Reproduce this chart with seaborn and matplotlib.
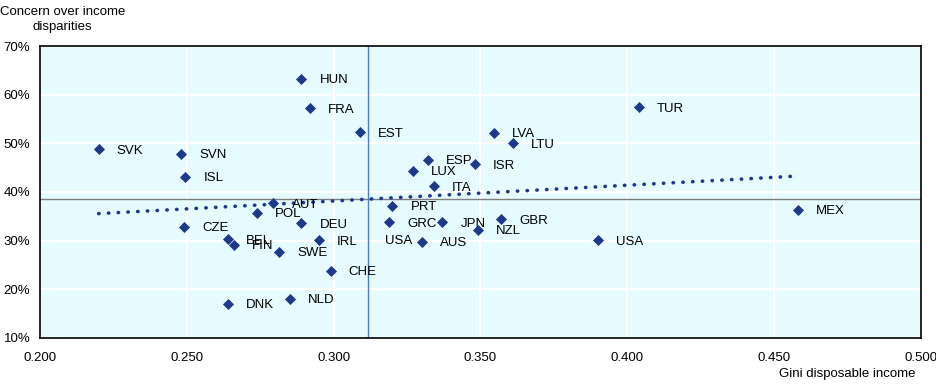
import numpy as np
import pandas as pd
import matplotlib
matplotlib.use('Agg')
import matplotlib.pyplot as plt
from matplotlib.ticker import PercentFormatter
import seaborn as sns

# Values
countries = ['SVK', 'SVN', 'ISL', 'HUN', 'FRA', 'EST', 'LVA', 'LTU', 'ESP', 'ISR',
             'LUX', 'ITA', 'PRT', 'GRC', 'AUS', 'JPN', 'NZL', 'GBR', 'USA', 'TUR',
             'MEX', 'CZE', 'BEL', 'FIN', 'POL', 'AUT', 'DEU', 'SWE', 'IRL', 'CHE',
             'DNK', 'NLD']
gini = [0.220, 0.248, 0.2495, 0.289, 0.292, 0.309, 0.3545, 0.361, 0.332, 0.348,
        0.327, 0.334, 0.320, 0.319, 0.330, 0.337, 0.349, 0.357, 0.390, 0.404,
        0.458, 0.249, 0.264, 0.266, 0.274, 0.2795, 0.289, 0.2815, 0.295, 0.299,
        0.264, 0.285]
concern = [48.8, 47.8, 43.1, 63.2, 57.2, 52.3, 52.1, 50.0, 46.6, 45.7,
           44.3, 41.2, 37.1, 33.8, 29.7, 33.8, 32.2, 34.4, 30.1, 57.4,
           36.3, 32.8, 30.3, 29.1, 35.7, 37.7, 33.6, 27.7, 30.1, 23.8,
           17.0, 18.0]

df = pd.DataFrame({'country': countries, 'gini': gini, 'concern': concern})

navy = '#1d3a8a'
sns.set_style('white')
plt.rcParams['font.family'] = ['Liberation Sans', 'DejaVu Sans']
plt.rcParams['text.color'] = 'black'
plt.rcParams['xtick.color'] = 'black'
plt.rcParams['ytick.color'] = 'black'

fig = plt.figure(figsize=(9.36, 3.88), dpi=100)
ax = fig.add_axes([0.0427, 0.129, 0.9413, 0.7524])
ax.set_facecolor('#e6fbfe')

# mean lines
ax.axhline(df['concern'].mean(), color='#7f7f7f', lw=1, zorder=1)
ax.axvline(df['gini'].mean(), color='#4a7cc4', lw=1, zorder=1)

sns.regplot(data=df, x='gini', y='concern', scatter=False, ci=None, truncate=True,
            color=navy, line_kws={'ls': (0, (0.1, 2.6)), 'lw': 2.6,
                                  'dash_capstyle': 'round', 'zorder': 2}, ax=ax)
sns.scatterplot(data=df, x='gini', y='concern', marker='D', s=32, color=navy,
                edgecolor=navy, linewidth=0, zorder=3, ax=ax)

for _, r in df.iterrows():
    ax.annotate(r['country'], (r['gini'], r['concern']), xytext=(13, -1),
                textcoords='offset points', va='center', ha='left', fontsize=9.5)
# second USA label sits left of the AUS marker in the source
aus = df[df['country'] == 'AUS'].iloc[0]
ax.annotate('USA', (aus['gini'], aus['concern']), xytext=(-7, 1),
            textcoords='offset points', va='center', ha='right', fontsize=9.5)

ax.set_xlim(0.2, 0.5)
ax.set_ylim(10, 70)
ax.set_xticks(np.arange(0.2, 0.501, 0.05))
ax.set_yticks(np.arange(10, 71, 10))
ax.xaxis.set_major_formatter(lambda v, p: f'{v:.3f}')
ax.yaxis.set_major_formatter(PercentFormatter(decimals=0))
ax.grid(True, color='white', lw=1.5)
ax.set_axisbelow(True)
ax.tick_params(direction='in', length=4, labelsize=9.5, pad=7)
ax.tick_params(axis='x', pad=10)
for s in ax.spines.values():
    s.set_color('black')
    s.set_linewidth(1.2)
ax.set_xlabel('')
ax.set_ylabel('')
fig.text(0.067, 0.985, 'Concern over income\ndisparities', ha='center', va='top',
         fontsize=9.5, linespacing=1.3)
fig.text(0.905, 0.02, 'Gini disposable income', ha='center', va='bottom', fontsize=9.5)

fig.savefig('out.png', dpi=100)
